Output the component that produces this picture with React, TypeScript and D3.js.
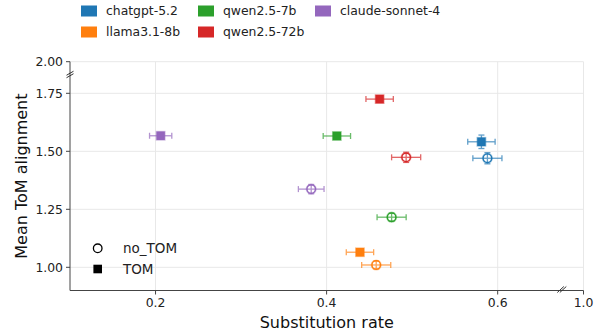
import React from 'react';
import * as d3 from 'd3';

// model order and colours (tab10)
const models = ['chatgpt-5.2', 'llama3.1-8b', 'qwen2.5-7b', 'qwen2.5-72b', 'claude-sonnet-4'];
const colors = ['#1f77b4', '#ff7f0e', '#2ca02c', '#d62728', '#9467bd'];

// TOM condition (squares)
const tomX = [0.581, 0.439, 0.412, 0.462, 0.206];
const tomY = [1.541, 1.065, 1.566, 1.725, 1.567];
const tomXErr = [0.016, 0.016, 0.016, 0.016, 0.013];
const tomYErr = [0.029, 0.014, 0.014, 0.014, 0.014];

// no_TOM condition (hollow circles)
const noTomX = [0.588, 0.458, 0.476, 0.493, 0.382];
const noTomY = [1.470, 1.010, 1.216, 1.474, 1.337];
const noTomXErr = [0.017, 0.017, 0.017, 0.017, 0.015];
const noTomYErr = [0.024, 0.017, 0.017, 0.022, 0.02];

const xTicks = [0.2, 0.4, 0.6, 1.0];
const xTickLabels = ['0.2', '0.4', '0.6', '1.0'];
const yTicks = [1.0, 1.25, 1.5, 1.75, 2.0];
const yTickLabels = ['1.00', '1.25', '1.50', '1.75', '2.00'];

const W = 599;
const H = 333;
const left = 70;
const bottom = 290.5;
const font = 'DejaVu Sans, sans-serif';

// broken axes: the last stretch is squeezed to hold the 1.0 / 2.00 tick
const x = d3.scaleLinear().domain([0.1, 0.68, 1.0]).range([left, 566.1, 583.5]);
const y = d3.scaleLinear().domain([0.9, 1.85, 2.0]).range([bottom, 70.1, 61.7]);
const xBreak = 0.675;
const yBreak = 1.83;

const ErrBars = ({ cx, cy, ex, ey, color }: any) => {
  const x0 = x(cx - ex), x1 = x(cx + ex);
  const y0 = y(cy - ey), y1 = y(cy + ey);
  const px = x(cx), py = y(cy);
  const cap = 3;
  return (
    <g stroke={color} strokeWidth={1.3} opacity={0.7} fill="none">
      <line x1={x0} x2={x1} y1={py} y2={py} />
      <line x1={x0} x2={x0} y1={py - cap} y2={py + cap} />
      <line x1={x1} x2={x1} y1={py - cap} y2={py + cap} />
      <line x1={px} x2={px} y1={y0} y2={y1} />
      <line x1={px - cap} x2={px + cap} y1={y0} y2={y0} />
      <line x1={px - cap} x2={px + cap} y1={y1} y2={y1} />
    </g>
  );
};

const App = () => {
  const right = x(1.0);
  const top = y(2.0);
  const xb = x(xBreak);
  const yb = y(yBreak);

  return (
    <svg width={W} height={H} style={{ position: 'absolute', left: 0, top: 0 }} fontFamily={font}>
      <rect width={W} height={H} fill="#fff" />

      {/* grid */}
      <g stroke="#e8e8e8" strokeWidth={1}>
        {xTicks.map((t) => (
          <line key={'gx' + t} x1={x(t)} x2={x(t)} y1={top} y2={bottom} />
        ))}
        {yTicks.map((t) => (
          <line key={'gy' + t} x1={left} x2={right} y1={y(t)} y2={y(t)} />
        ))}
      </g>

      {/* error bars and markers */}
      {models.map((m, i) => (
        <g key={m}>
          <ErrBars cx={noTomX[i]} cy={noTomY[i]} ex={noTomXErr[i]} ey={noTomYErr[i]} color={colors[i]} />
          <circle cx={x(noTomX[i])} cy={y(noTomY[i])} r={4.5} fill="none" stroke={colors[i]} strokeWidth={2.2} strokeOpacity={0.35} />
          <circle cx={x(noTomX[i])} cy={y(noTomY[i])} r={4.3} fill="none" stroke={colors[i]} strokeWidth={1.3} />
          <ErrBars cx={tomX[i]} cy={tomY[i]} ex={tomXErr[i]} ey={tomYErr[i]} color={colors[i]} />
          <rect
            x={x(tomX[i]) - 4.2}
            y={y(tomY[i]) - 4.2}
            width={8.4}
            height={8.4}
            fill={colors[i]}
            stroke={colors[i]}
            strokeWidth={1.4}
            strokeOpacity={0.45}
          />
        </g>
      ))}

      {/* spines */}
      <g stroke="#444" strokeWidth={1}>
        <line x1={left} x2={left} y1={top} y2={bottom} />
        <line x1={left} x2={right} y1={bottom} y2={bottom} />
      </g>

      {/* break marks */}
      <g stroke="#333" strokeWidth={1}>
        <line x1={left - 3.5} x2={left + 3.5} y1={yb + 0.5} y2={yb - 3.5} />
        <line x1={left - 3.5} x2={left + 3.5} y1={yb + 3} y2={yb - 1} />
        <line x1={xb - 4.5} x2={xb + 2} y1={bottom + 2} y2={bottom - 4} />
        <line x1={xb - 2} x2={xb + 4.5} y1={bottom + 2} y2={bottom - 4} />
      </g>

      {/* y ticks */}
      {yTicks.map((t, i) => (
        <g key={'yt' + t}>
          <line x1={left - 4} x2={left} y1={y(t)} y2={y(t)} stroke="#444" />
          <text x={left - 7} y={y(t)} dy="0.36em" textAnchor="end" fontSize={12.4} fill="#222">
            {yTickLabels[i]}
          </text>
        </g>
      ))}

      {/* x ticks */}
      {xTicks.map((t, i) => (
        <g key={'xt' + t}>
          <line x1={x(t)} x2={x(t)} y1={bottom} y2={bottom + 4} stroke="#444" />
          <text x={x(t)} y={bottom + 16} textAnchor="middle" fontSize={12.4} fill="#222">
            {xTickLabels[i]}
          </text>
        </g>
      ))}

      {/* axis titles */}
      <text x={(left + right) / 2} y={328} textAnchor="middle" fontSize={16} fill="#111">
        Substitution rate
      </text>
      <text
        transform={`translate(27,${(top + bottom) / 2}) rotate(-90)`}
        textAnchor="middle"
        fontSize={16}
        fill="#111"
      >
        Mean ToM alignment
      </text>

      {/* model legend, filled column by column */}
      {models.map((m, i) => {
        const col = Math.floor(i / 2);
        const row = i % 2;
        const lx = 81 + col * 117;
        const ly = 11 + row * 21;
        return (
          <g key={'lg' + m}>
            <rect x={lx} y={ly - 5.5} width={16} height={11} fill={colors[i]} />
            <text x={lx + 25} y={ly} dy="0.36em" fontSize={12.4} fill="#222">
              {m}
            </text>
          </g>
        );
      })}

      {/* condition legend */}
      <circle cx={97.7} cy={248.3} r={4.3} fill="none" stroke="#000" strokeWidth={1.3} />
      <text x={123} y={248.3} dy="0.36em" fontSize={13.5} fill="#222">no_TOM</text>
      <rect x={97.7 - 4.3} y={269 - 4.3} width={8.6} height={8.6} fill="#000" />
      <text x={123} y={269} dy="0.36em" fontSize={13.5} fill="#222">TOM</text>
    </svg>
  );
};

export default App;
